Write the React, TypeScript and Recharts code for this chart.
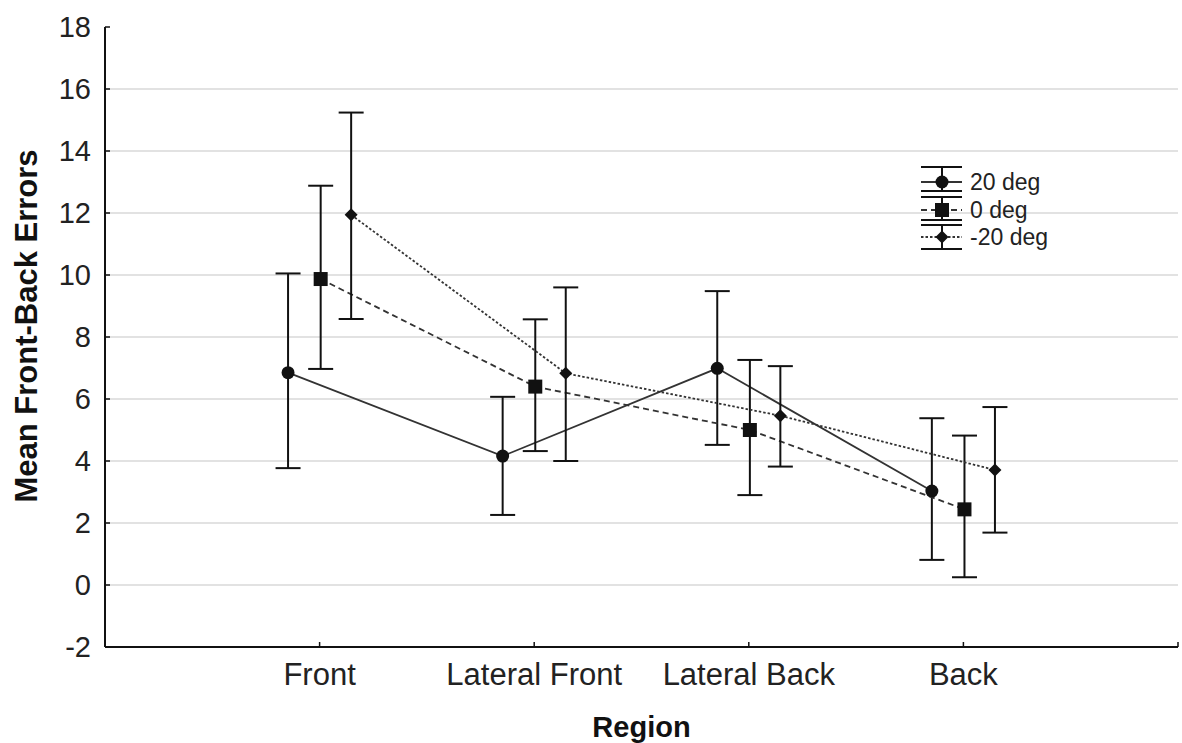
import React from "react";
import {
  LineChart,
  Line,
  XAxis,
  YAxis,
  CartesianGrid,
  ErrorBar,
  Label,
} from "recharts";

// regions on the x axis
const regions = ["Front", "Lateral Front", "Lateral Back", "Back"];
const yTicks = [-2, 0, 2, 4, 6, 8, 10, 12, 14, 16, 18];
const gridValues = [0, 2, 4, 6, 8, 10, 12, 14, 16];

// 20 deg
const mean20 = [6.85, 4.16, 6.99, 3.03];
const low20 = [3.77, 2.26, 4.52, 0.81];
const high20 = [10.05, 6.07, 9.48, 5.38];

// 0 deg
const mean0 = [9.87, 6.4, 5.0, 2.44];
const low0 = [6.97, 4.32, 2.9, 0.25];
const high0 = [12.88, 8.57, 7.26, 4.82];

// -20 deg
const meanM20 = [11.94, 6.83, 5.46, 3.71];
const lowM20 = [8.58, 4.0, 3.82, 1.69];
const highM20 = [15.24, 9.6, 7.06, 5.74];

const FONT = "Arial, 'Liberation Sans', sans-serif";
const INK = "#111";

const buildRows = (means: number[], lows: number[], highs: number[], shift: number) =>
  means.map((m, i) => ({
    x: i + 1 + shift,
    y: m,
    err: [m - lows[i], highs[i] - m],
  }));

const series = [
  { name: "20 deg", kind: "circle", dash: undefined, data: buildRows(mean20, low20, high20, -0.147) },
  { name: "0 deg", kind: "square", dash: "6 4", data: buildRows(mean0, low0, high0, 0.005) },
  { name: "-20 deg", kind: "diamond", dash: "2.5 2", data: buildRows(meanM20, lowM20, highM20, 0.147) },
];

function Marker({ kind, cx, cy }: { kind: string; cx: number; cy: number }) {
  if (kind === "circle") return <circle cx={cx} cy={cy} r={6.5} fill={INK} />;
  if (kind === "square")
    return <rect x={cx - 7} y={cy - 7} width={14} height={14} fill={INK} />;
  return (
    <polygon
      points={`${cx},${cy - 6.5} ${cx + 6.5},${cy} ${cx},${cy + 6.5} ${cx - 6.5},${cy}`}
      fill={INK}
    />
  );
}

function LegendBox() {
  const rows = [
    { s: series[0], top: 7, mid: 22, bot: 31 },
    { s: series[1], top: 37, mid: 50, bot: 60 },
    { s: series[2], top: 65, mid: 77, bot: 89 },
  ];
  return (
    <svg
      width={175}
      height={100}
      style={{ position: "absolute", left: 915, top: 160 }}
    >
      {rows.map((r) => (
        <g key={r.s.name}>
          <line x1={6} x2={47} y1={r.top} y2={r.top} stroke={INK} strokeWidth={2} />
          <line x1={6} x2={47} y1={r.bot} y2={r.bot} stroke={INK} strokeWidth={2} />
          <line x1={27} x2={27} y1={r.top} y2={r.bot} stroke={INK} strokeWidth={2} />
          <line
            x1={6}
            x2={47}
            y1={r.mid}
            y2={r.mid}
            stroke="#333"
            strokeWidth={1.8}
            strokeDasharray={r.s.dash}
          />
          <Marker kind={r.s.kind} cx={27} cy={r.mid} />
          <text
            x={55}
            y={r.mid}
            dy="0.36em"
            fontSize={23}
            fontFamily={FONT}
            fill="#222"
          >
            {r.s.name}
          </text>
        </g>
      ))}
    </svg>
  );
}

export default function App() {
  return (
    <div
      style={{
        position: "absolute",
        left: 0,
        top: 0,
        width: 1182,
        height: 743,
        background: "#fff",
      }}
    >
      <LineChart
        width={1182}
        height={743}
        margin={{ top: 27, right: 4, bottom: 0, left: 0 }}
      >
        <CartesianGrid
          vertical={false}
          horizontalValues={gridValues}
          stroke="#d9d9d9"
          strokeWidth={1.5}
        />
        <XAxis
          type="number"
          dataKey="x"
          domain={[0, 5]}
          ticks={[1, 2, 3, 4, 5]}
          interval={0}
          allowDataOverflow
          tickFormatter={(v: number) => regions[v - 1] ?? ""}
          height={96}
          tickSize={-5}
          tickMargin={21}
          axisLine={{ stroke: INK, strokeWidth: 2 }}
          tickLine={{ stroke: INK, strokeWidth: 1.5 }}
          tick={{ fontSize: 31, fontFamily: FONT, fill: "#222" }}
        >
          <Label
            content={({ viewBox }: any) => (
              <text
                x={viewBox.x + viewBox.width / 2}
                y={viewBox.y + 90}
                textAnchor="middle"
                fontSize={29}
                fontWeight="bold"
                fontFamily={FONT}
                fill={INK}
              >
                Region
              </text>
            )}
          />
        </XAxis>
        <YAxis
          type="number"
          domain={[-2, 18]}
          ticks={yTicks}
          interval={0}
          width={105}
          tickSize={-5}
          tickMargin={19}
          axisLine={{ stroke: INK, strokeWidth: 2 }}
          tickLine={{ stroke: INK, strokeWidth: 1.5 }}
          tick={{ fontSize: 29, fontFamily: FONT, fill: "#222" }}
        >
          <Label
            content={({ viewBox }: any) => {
              const cx = 37;
              const cy = viewBox.y + viewBox.height / 2 - 11;
              return (
                <text
                  x={cx}
                  y={cy}
                  transform={`rotate(-90, ${cx}, ${cy})`}
                  textAnchor="middle"
                  fontSize={31}
                  fontWeight="bold"
                  fontFamily={FONT}
                  fill={INK}
                >
                  Mean Front-Back Errors
                </text>
              );
            }}
          />
        </YAxis>
        {series.map((s) => (
          <Line
            key={s.name}
            name={s.name}
            data={s.data}
            dataKey="y"
            type="linear"
            stroke="#333"
            strokeWidth={1.8}
            strokeDasharray={s.dash}
            isAnimationActive={false}
            dot={(p: any) => <Marker key={`${s.name}-${p.index}`} kind={s.kind} cx={p.cx} cy={p.cy} />}
            activeDot={false}
          >
            <ErrorBar
              dataKey="err"
              direction="y"
              width={12.5}
              stroke={INK}
              strokeWidth={2}
              isAnimationActive={false}
            />
          </Line>
        ))}
      </LineChart>
      <LegendBox />
    </div>
  );
}
